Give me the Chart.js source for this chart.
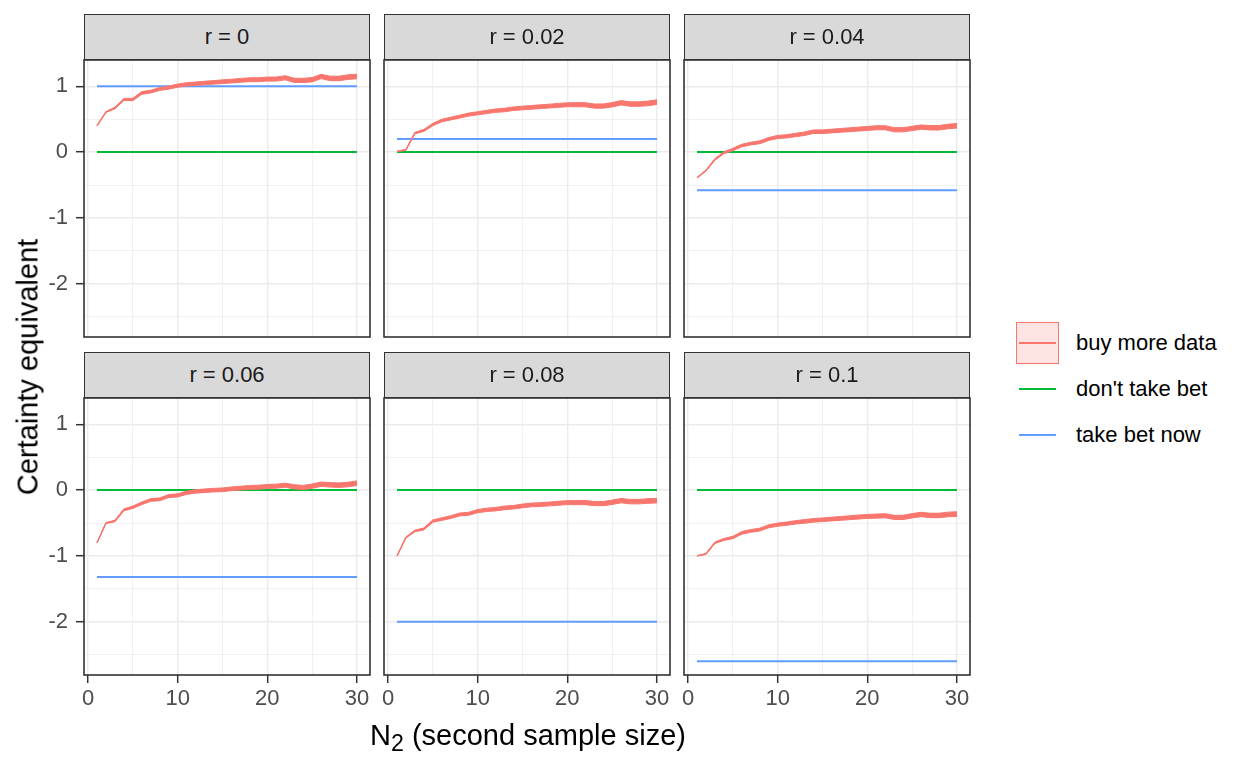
<!DOCTYPE html>
<html>
<head>
<meta charset="utf-8">
<script src="https://cdn.jsdelivr.net/npm/chart.js@4.4.1/dist/chart.umd.min.js"></script>
<style>
    html, body { margin: 0; padding: 0; background: #fff; }
    body { width: 1248px; height: 768px; position: relative; overflow: hidden; font-family: "Liberation Sans", Arial, sans-serif; }
    canvas { position: absolute; }
    .strip { position: absolute; box-sizing: border-box; background: #D9D9D9; border: 1.6px solid #333333;
             color: #1A1A1A; font-size: 22px; text-align: center; z-index: 2; }
    .lbl { position: absolute; white-space: nowrap; z-index: 3; }
    .key-line { position: absolute; height: 2px; }
</style>
</head>
<body>
<script>
// --- datos ---
const nValues = [1, 2, 3, 4, 5, 6, 7, 8, 9, 10, 11, 12, 13, 14, 15, 16, 17, 18, 19, 20, 21, 22, 23, 24, 25, 26, 27, 28, 29, 30];
const panelLabels = ['r = 0', 'r = 0.02', 'r = 0.04', 'r = 0.06', 'r = 0.08', 'r = 0.1'];

const buyR0   = [0.40, 0.61, 0.67, 0.80, 0.80, 0.90, 0.92, 0.96, 0.98, 1.01, 1.03, 1.04, 1.05, 1.06, 1.07, 1.08, 1.09, 1.10, 1.10, 1.11, 1.11, 1.13, 1.09, 1.09, 1.10, 1.15, 1.12, 1.12, 1.14, 1.15];
const buyR002 = [0.01, 0.035, 0.29, 0.33, 0.42, 0.48, 0.51, 0.54, 0.57, 0.59, 0.61, 0.63, 0.64, 0.66, 0.67, 0.68, 0.69, 0.70, 0.71, 0.72, 0.72, 0.72, 0.70, 0.70, 0.72, 0.75, 0.73, 0.73, 0.74, 0.76];
const buyR004 = [-0.39, -0.28, -0.11, -0.01, 0.04, 0.10, 0.13, 0.15, 0.20, 0.23, 0.24, 0.26, 0.28, 0.31, 0.31, 0.32, 0.33, 0.34, 0.35, 0.36, 0.37, 0.37, 0.34, 0.34, 0.36, 0.38, 0.37, 0.37, 0.39, 0.40];
const buyR006 = [-0.80, -0.50, -0.47, -0.30, -0.26, -0.20, -0.15, -0.14, -0.09, -0.08, -0.04, -0.02, -0.01, 0.00, 0.005, 0.02, 0.03, 0.04, 0.045, 0.055, 0.06, 0.075, 0.05, 0.04, 0.06, 0.09, 0.08, 0.075, 0.085, 0.105];
const buyR008 = [-1.00, -0.72, -0.62, -0.59, -0.47, -0.44, -0.41, -0.37, -0.36, -0.32, -0.30, -0.29, -0.27, -0.26, -0.24, -0.225, -0.22, -0.21, -0.20, -0.19, -0.19, -0.19, -0.205, -0.205, -0.185, -0.16, -0.175, -0.175, -0.165, -0.16];
const buyR010 = [-1.00, -0.97, -0.80, -0.75, -0.72, -0.65, -0.62, -0.60, -0.55, -0.525, -0.51, -0.49, -0.475, -0.46, -0.45, -0.44, -0.43, -0.42, -0.41, -0.40, -0.395, -0.39, -0.415, -0.415, -0.39, -0.37, -0.385, -0.385, -0.37, -0.365];
const buyMoreData = [buyR0, buyR002, buyR004, buyR006, buyR008, buyR010];

// semi-ancho de la banda (igual para todos los paneles)
const bandHalf = [0.004, 0.008, 0.012, 0.015, 0.018, 0.020, 0.021, 0.022, 0.023, 0.024, 0.025, 0.026, 0.027, 0.027, 0.028, 0.028, 0.029, 0.029, 0.030, 0.030, 0.031, 0.031, 0.032, 0.032, 0.033, 0.033, 0.034, 0.034, 0.035, 0.035];

const dontTakeBet = [0, 0, 0, 0, 0, 0];
const takeBetNow = [1, 0.2, -0.58, -1.32, -2.0, -2.6];

const xMajor = [0, 10, 20, 30];
const xMinor = [5, 15, 25];
const yMajor = [-2, -1, 0, 1];
const yMinor = [-2.5, -1.5, -0.5, 0.5];

const legendLabels = ['buy more data', "don't take bet", 'take bet now'];

// --- colores y geometría ---
const RED = '#F8766D', GREEN = '#00BA38', BLUE = '#619CFF';
const FONT = '"Liberation Sans", Arial, sans-serif';
const panelX = [84, 384, 684];
const plotY = [60, 398];
const stripY = [14, 352];
const PW = 286, PH = 277;
const LEFT = 80, BOTTOM = 50, PAD = 2;

const panelBorder = {
    id: 'panelBorder',
    afterDraw(chart) {
        const { ctx, chartArea: a } = chart;
        ctx.save();
        ctx.strokeStyle = '#333333';
        ctx.lineWidth = 1.6;
        ctx.strokeRect(a.left, a.top, a.right - a.left, a.bottom - a.top);
        ctx.restore();
    }
};

function pts(ys) {
    return nValues.map((n, i) => ({ x: n, y: ys[i] }));
}

function makePanel(i) {
    const col = i % 3, row = Math.floor(i / 3);
    const showY = col === 0, showX = row === 1;

    const strip = document.createElement('div');
    strip.className = 'strip';
    strip.style.left = panelX[col] + 'px';
    strip.style.top = stripY[row] + 'px';
    strip.style.width = PW + 'px';
    strip.style.height = '46px';
    strip.style.lineHeight = '43px';
    strip.textContent = panelLabels[i];
    document.body.appendChild(strip);

    const canvas = document.createElement('canvas');
    canvas.width = LEFT + PW + PAD;
    canvas.height = PAD + PH + BOTTOM;
    canvas.style.left = (panelX[col] - LEFT) + 'px';
    canvas.style.top = (plotY[row] - PAD) + 'px';
    document.body.appendChild(canvas);

    const buy = buyMoreData[i];
    const lower = buy.map((v, k) => v - bandHalf[k]);
    const upper = buy.map((v, k) => v + bandHalf[k]);
    const flat = v => nValues.map(() => v);

    new Chart(canvas.getContext('2d'), {
        type: 'line',
        data: {
            datasets: [
                { data: pts(lower), borderColor: RED, borderWidth: 1, pointRadius: 0, fill: false },
                { data: pts(upper), borderColor: RED, borderWidth: 1, pointRadius: 0, fill: '-1', backgroundColor: RED },
                { data: pts(buy), borderColor: RED, borderWidth: 1.3, pointRadius: 0, fill: false },
                { data: pts(flat(dontTakeBet[i])), borderColor: GREEN, borderWidth: 2, pointRadius: 0, fill: false },
                { data: pts(flat(takeBetNow[i])), borderColor: BLUE, borderWidth: 2, pointRadius: 0, fill: false }
            ]
        },
        options: {
            responsive: false,
            animation: false,
            events: [],
            layout: { padding: { top: PAD, right: PAD, left: 0, bottom: 0 } },
            plugins: { legend: { display: false }, tooltip: { enabled: false } },
            elements: { line: { tension: 0 } },
            scales: {
                x: {
                    type: 'linear', min: -0.45, max: 31.45,
                    afterBuildTicks: s => { s.ticks = xMajor.concat(xMinor).sort((a, b) => a - b).map(v => ({ value: v })); },
                    afterFit: s => { s.height = BOTTOM; s.paddingLeft = 0; s.paddingRight = 0; },
                    border: { display: false },
                    grid: {
                        color: '#EBEBEB',
                        lineWidth: c => xMajor.includes(c.tick.value) ? 1.4 : 0.7,
                        drawTicks: showX,
                        tickLength: 8,
                        tickWidth: 1.5,
                        tickColor: c => xMajor.includes(c.tick.value) ? '#333333' : 'rgba(0,0,0,0)'
                    },
                    ticks: {
                        display: showX, autoSkip: false, maxRotation: 0, padding: 3,
                        color: '#4D4D4D', font: { size: 22, family: FONT },
                        callback: v => xMajor.includes(v) ? String(v) : ''
                    }
                },
                y: {
                    type: 'linear', min: -2.81, max: 1.40,
                    afterBuildTicks: s => { s.ticks = yMajor.concat(yMinor).sort((a, b) => a - b).map(v => ({ value: v })); },
                    afterFit: s => { s.width = LEFT; s.paddingTop = 0; s.paddingBottom = 0; },
                    border: { display: false },
                    grid: {
                        color: '#EBEBEB',
                        lineWidth: c => yMajor.includes(c.tick.value) ? 1.4 : 0.7,
                        drawTicks: showY,
                        tickLength: 8,
                        tickWidth: 1.5,
                        tickColor: c => yMajor.includes(c.tick.value) ? '#333333' : 'rgba(0,0,0,0)'
                    },
                    ticks: {
                        display: showY, autoSkip: false, padding: 8,
                        color: '#4D4D4D', font: { size: 22, family: FONT },
                        callback: v => yMajor.includes(v) ? String(v) : ''
                    }
                }
            }
        },
        plugins: [panelBorder]
    });
}

panelLabels.forEach((_, i) => makePanel(i));

// --- títulos de ejes ---
const yTitle = document.createElement('div');
yTitle.className = 'lbl';
yTitle.style.cssText += 'left:28px;top:367px;font-size:29px;color:#000;transform:translate(-50%,-50%) rotate(-90deg);';
yTitle.textContent = 'Certainty equivalent';
document.body.appendChild(yTitle);

const xTitle = document.createElement('div');
xTitle.className = 'lbl';
xTitle.style.cssText += 'left:528px;top:735px;font-size:29px;color:#000;transform:translate(-50%,-50%);';
xTitle.innerHTML = 'N<sub style="font-size:0.8em;vertical-align:-0.3em;line-height:0">2</sub> (second sample size)';
document.body.appendChild(xTitle);

// --- leyenda ---
const legendY = [343, 389, 435];
const box = document.createElement('div');
box.style.cssText = 'position:absolute;left:1016px;top:322px;width:43px;height:42px;box-sizing:border-box;' +
    'background:rgba(248,118,109,0.2);border:1.5px solid ' + RED + ';';
document.body.appendChild(box);
[RED, GREEN, BLUE].forEach((c, k) => {
    const ln = document.createElement('div');
    ln.className = 'key-line';
    ln.style.cssText += 'left:1019px;width:37px;top:' + (legendY[k] - 1) + 'px;background:' + c + ';z-index:4;';
    document.body.appendChild(ln);

    const t = document.createElement('div');
    t.className = 'lbl';
    t.style.cssText += 'left:1076px;top:' + legendY[k] + 'px;font-size:22px;color:#000;transform:translateY(-50%);';
    t.textContent = legendLabels[k];
    document.body.appendChild(t);
});
</script>
</body>
</html>
